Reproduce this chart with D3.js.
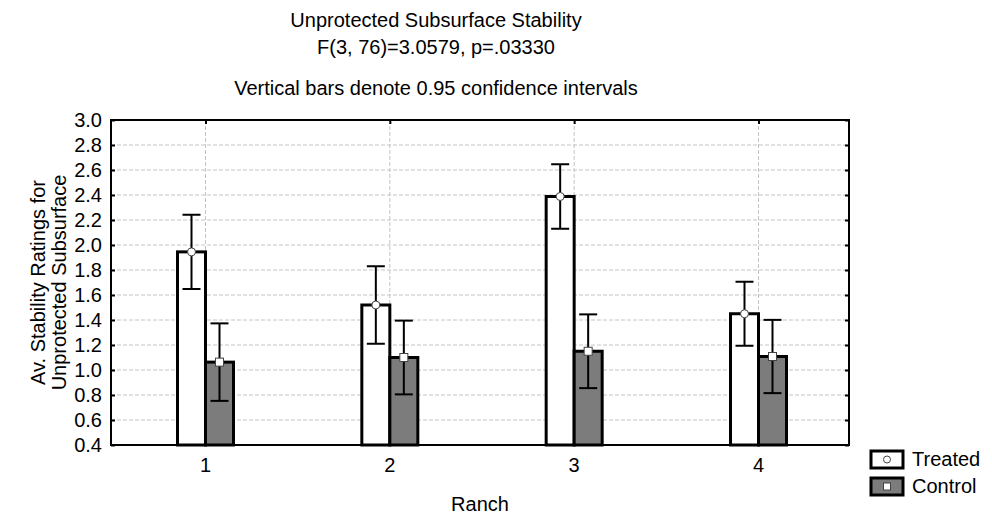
<!DOCTYPE html>
<html><head><meta charset="utf-8">
<script src="https://cdn.jsdelivr.net/npm/d3@7"></script>
<style>body{margin:0;background:#fff}svg{display:block}text{font-family:"Liberation Sans",Arial,sans-serif;fill:#000}</style>
</head><body>
<script>
const categories = ["1","2","3","4"];
const treatedMean = [1.945, 1.520, 2.388, 1.450];
const treatedCI   = [0.297, 0.310, 0.258, 0.256];
const controlMean = [1.063, 1.100, 1.150, 1.108];
const controlCI   = [0.310, 0.295, 0.295, 0.293];
const yTicks = [0.4,0.6,0.8,1.0,1.2,1.4,1.6,1.8,2.0,2.2,2.4,2.6,2.8,3.0];
const titleLines = ["Unprotected Subsurface Stability","F(3, 76)=3.0579, p=.03330","Vertical bars denote 0.95 confidence intervals"];
const yLabelLines = ["Av. Stability Ratings for","Unprotected Subsurface"];
const xLabel = "Ranch";
const seriesNames = ["Treated","Control"];

const W=992,H=516,FS=20;
const L=111,R=849,T=120,B=445;
const svg=d3.select("body").append("svg").attr("width",W).attr("height",H);
const y=d3.scaleLinear().domain([0.4,3.0]).range([B,T]);
const x=d3.scalePoint().domain(categories).range([205.5,758.5]);
const bw=28;

// grid
svg.append("g").selectAll("line").data(yTicks.slice(1,-1)).join("line")
  .attr("x1",L).attr("x2",R).attr("y1",d=>y(d)).attr("y2",d=>y(d))
  .attr("stroke","#c4c4c4").attr("stroke-dasharray","4,2");
svg.append("g").selectAll("line").data(categories).join("line")
  .attr("x1",d=>x(d)).attr("x2",d=>x(d)).attr("y1",T).attr("y2",B)
  .attr("stroke","#c4c4c4").attr("stroke-dasharray","4,2");

// axes
const yAxisL=d3.axisRight(y).tickValues(yTicks).tickSize(4).tickFormat("");
const gl=svg.append("g").attr("transform",`translate(${L},0)`).call(yAxisL);
gl.select(".domain").remove(); gl.selectAll("line").attr("stroke","#000").attr("stroke-width",2);
const yAxisR=d3.axisLeft(y).tickValues(yTicks).tickSize(4).tickFormat("");
const gr=svg.append("g").attr("transform",`translate(${R},0)`).call(yAxisR);
gr.select(".domain").remove(); gr.selectAll("line").attr("stroke","#000").attr("stroke-width",2);
const xTop=d3.axisBottom(x).tickSize(4).tickFormat("");
const gt=svg.append("g").attr("transform",`translate(0,${T})`).call(xTop);
gt.select(".domain").remove(); gt.selectAll("line").attr("stroke","#000").attr("stroke-width",2);
const xBot=d3.axisTop(x).tickSize(4).tickFormat("");
const gb=svg.append("g").attr("transform",`translate(0,${B})`).call(xBot);
gb.select(".domain").remove(); gb.selectAll("line").attr("stroke","#000").attr("stroke-width",2);

// tick labels
svg.append("g").selectAll("text").data(yTicks).join("text")
  .attr("x",L-9).attr("y",d=>y(d)).attr("dy","0.36em").attr("text-anchor","end")
  .attr("font-size",FS).text(d=>d.toFixed(1));
svg.append("g").selectAll("text").data(categories).join("text")
  .attr("x",d=>x(d)).attr("y",B+27).attr("text-anchor","middle")
  .attr("font-size",FS).text(d=>d);

// bars
const data=categories.map((c,i)=>({c,tm:treatedMean[i],tc:treatedCI[i],cm:controlMean[i],cc:controlCI[i]}));
const g=svg.append("g");
g.selectAll(".bt").data(data).join("rect")
  .attr("x",d=>x(d.c)-bw).attr("width",bw).attr("y",d=>y(d.tm)).attr("height",d=>B-y(d.tm))
  .attr("fill","#fff").attr("stroke","#000").attr("stroke-width",3);
g.selectAll(".bc").data(data).join("rect")
  .attr("x",d=>x(d.c)).attr("width",bw).attr("y",d=>y(d.cm)).attr("height",d=>B-y(d.cm))
  .attr("fill","#7c7c7c").attr("stroke","#000").attr("stroke-width",3);

// error bars
function err(sel,cx,m,ci){
  sel.append("line").attr("x1",cx).attr("x2",cx).attr("y1",y(m+ci)).attr("y2",y(m-ci)).attr("stroke","#000").attr("stroke-width",2);
  sel.append("line").attr("x1",cx-9).attr("x2",cx+9).attr("y1",y(m+ci)).attr("y2",y(m+ci)).attr("stroke","#000").attr("stroke-width",2);
  sel.append("line").attr("x1",cx-9).attr("x2",cx+9).attr("y1",y(m-ci)).attr("y2",y(m-ci)).attr("stroke","#000").attr("stroke-width",2);
}
data.forEach(d=>{
  const tx=x(d.c)-bw/2, cx=x(d.c)+bw/2;
  err(g,tx,d.tm,d.tc); err(g,cx,d.cm,d.cc);
  g.append("circle").attr("cx",tx).attr("cy",y(d.tm)).attr("r",4).attr("fill","#fff").attr("stroke","#444").attr("stroke-width",1);
  g.append("rect").attr("x",cx-4).attr("y",y(d.cm)-4).attr("width",8).attr("height",8).attr("fill","#fff").attr("stroke","#444").attr("stroke-width",1);
});

// frame
svg.append("rect").attr("x",L).attr("y",T).attr("width",R-L).attr("height",B-T).attr("fill","none").attr("stroke","#000").attr("stroke-width",2);

// titles
svg.append("g").selectAll("text").data(titleLines).join("text")
  .attr("x",436).attr("y",(d,i)=>[27,54,95][i]).attr("text-anchor","middle").attr("font-size",FS).text(d=>d);
// y label
svg.append("g").selectAll("text").data(yLabelLines).join("text")
  .attr("transform",(d,i)=>`translate(${[45,66][i]},${(T+B)/2}) rotate(-90)`)
  .attr("text-anchor","middle").attr("font-size",FS).text(d=>d);
// x label
svg.append("text").attr("x",(L+R)/2).attr("y",B+66).attr("text-anchor","middle").attr("font-size",FS).text(xLabel);

// legend
const lg=svg.append("g");
seriesNames.forEach((n,i)=>{
  const by=451+i*27;
  lg.append("rect").attr("x",871).attr("y",by).attr("width",32).attr("height",17)
    .attr("fill",i?"#7c7c7c":"#fff").attr("stroke","#000").attr("stroke-width",3);
  if(i===0) lg.append("circle").attr("cx",887).attr("cy",by+8.5).attr("r",3.5).attr("fill","#fff").attr("stroke","#444");
  else lg.append("rect").attr("x",883.5).attr("y",by+5).attr("width",7).attr("height",7).attr("fill","#fff").attr("stroke","#444");
  lg.append("text").attr("x",912).attr("y",by+15).attr("font-size",FS).text(n);
});
</script>
</body></html>
